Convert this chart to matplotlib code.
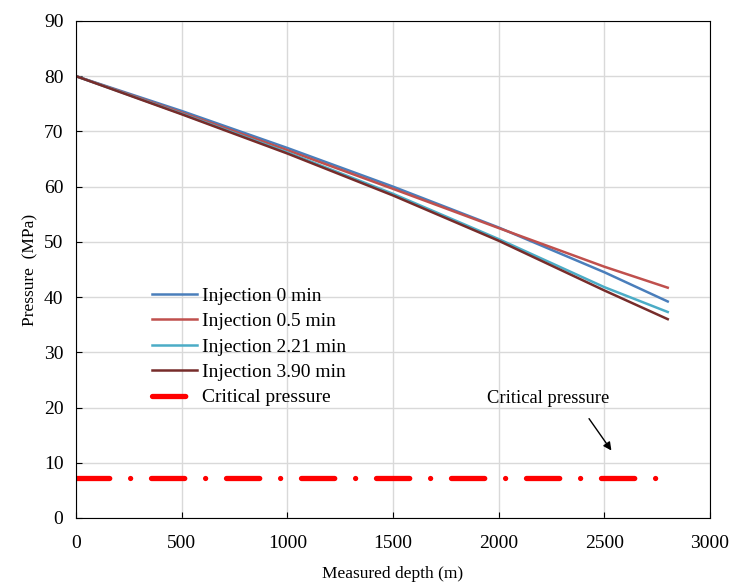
import matplotlib.pyplot as plt

plt.rcParams['font.family'] = ['Liberation Serif', 'DejaVu Serif']

# data
depth = [0, 500, 1000, 1500, 2000, 2500, 2800]
p_0min = [80, 73.7, 67.0, 60.0, 52.6, 44.5, 39.2]
p_05min = [80, 73.4, 66.6, 59.6, 52.5, 45.5, 41.7]
p_221min = [80, 73.2, 66.2, 58.7, 50.5, 41.8, 37.3]
p_390min = [80, 73.1, 66.0, 58.4, 50.2, 41.2, 36.0]
crit_x = [0, 2770]
crit_p = [7.3, 7.3]

fig = plt.figure(figsize=(7.35, 5.82), dpi=100)
ax = fig.add_axes([0.1034, 0.11, 0.8626, 0.854])

ax.plot(depth, p_0min, color='#4a7ebb', lw=1.8, label='Injection 0 min')
ax.plot(depth, p_05min, color='#c0504d', lw=1.8, label='Injection 0.5 min')
ax.plot(depth, p_221min, color='#4bacc6', lw=1.8, label='Injection 2.21 min')
ax.plot(depth, p_390min, color='#772c2a', lw=1.8, label='Injection 3.90 min')
line, = ax.plot(crit_x, crit_p, color='#ff0000', lw=3.8, label='Critical pressure',
                solid_capstyle='round', dash_capstyle='round')
line.set_dashes([6.3, 3.95, 0.01, 3.95])

ax.text(2233, 21.7, 'Critical pressure', ha='center', va='center', fontsize=13.3)
ax.annotate('', xy=(2541, 11.8), xytext=(2420, 18.4),
            arrowprops=dict(arrowstyle='-|>', color='black', lw=1, mutation_scale=12))

ax.set_xlim(0, 3000)
ax.set_ylim(0, 90)
ax.set_xticks(range(0, 3001, 500))
ax.set_yticks(range(0, 91, 10))
ax.grid(True, color='#d9d9d9', lw=1)
ax.set_axisbelow(True)
ax.tick_params(direction='in', labelsize=14, length=4, pad=9)
ax.tick_params(axis='x', pad=12)
for s in ax.spines.values():
    s.set_color('black')
ax.set_xlabel('Measured depth (m)', fontsize=12.5, labelpad=10)
ax.set_ylabel('Pressure  (MPa)', fontsize=12.5, labelpad=4)

ax.legend(loc='upper left', bbox_to_anchor=(0.108, 0.48), frameon=False, fontsize=14,
          handlelength=2.3, handletextpad=0.25, labelspacing=0.4, borderaxespad=0)

plt.savefig('out.png', dpi=100)
